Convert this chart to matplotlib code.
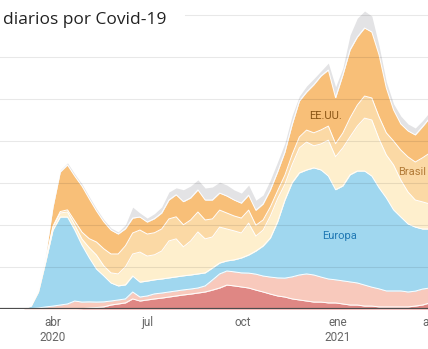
import matplotlib
matplotlib.use('Agg')
import matplotlib.pyplot as plt
import numpy as np
import pandas as pd

plt.rcParams['font.family'] = ['Roboto', 'DejaVu Sans']

# weekly 7-day averages of daily deaths
dates = pd.date_range('2020-03-04', periods=58, freq='7D')

india = [0, 0, 0, 0, 0, 0, 0, 0, 20, 50, 70, 100, 190, 240, 290, 480, 380, 430, 480, 520,
         570, 620, 670, 710, 760, 810, 900, 1000, 1140, 1100, 1050, 1000, 900, 810, 710, 620, 570, 480, 430, 380,
         330, 330, 290, 290, 240, 190, 190, 140, 140, 100, 100, 100, 100, 100, 140, 190, 290, 430]
resto = [20, 20, 50, 100, 140, 190, 240, 380, 310, 290, 260, 240, 190, 190, 190, 330, 190, 190, 240, 240,
         240, 240, 240, 240, 240, 290, 480, 670, 670, 670, 670, 710, 760, 760, 810, 860, 900, 1050, 1190, 1290,
         1290, 1190, 1140, 1100, 1100, 1100, 1050, 1000, 900, 860, 760, 760, 760, 710, 710, 760, 710, 670]
europa = [0, 120, 760, 2140, 3620, 4190, 4140, 3380, 2710, 2100, 1570, 1240, 860, 670, 670, 760, 710, 710, 670, 670,
          670, 670, 670, 670, 670, 620, 570, 520, 480, 570, 710, 860, 1100, 1430, 1860, 2670, 3710, 4480, 4860, 4950,
          5100, 5100, 4900, 4290, 4520, 5100, 5330, 5430, 5290, 4810, 4430, 3860, 3520, 3240, 3050, 2860, 2810, 2760]
latam = [0, 10, 50, 100, 140, 190, 240, 240, 290, 480, 670, 480, 480, 570, 860, 1050, 1430, 1190, 1190, 1330,
         1760, 1810, 1380, 1620, 2000, 1620, 1480, 1710, 1520, 1380, 1190, 1520, 710, 760, 1050, 1100, 760, 860, 1190, 1330,
         1050, 1240, 1710, 1570, 1810, 1810, 2140, 2520, 2670, 2330, 2050, 2140, 1760, 1520, 1290, 1290, 1190, 1140]
brasil = [0, 0, 10, 20, 50, 70, 100, 190, 330, 430, 620, 810, 900, 950, 1000, 1000, 1050, 1050, 1050, 1050,
          1050, 1050, 1050, 1000, 950, 900, 860, 810, 760, 710, 710, 620, 520, 480, 430, 380, 430, 480, 520, 570,
          620, 670, 670, 620, 710, 900, 1000, 1050, 1050, 1050, 1050, 1140, 1430, 1670, 1810, 2100, 2430, 2670]
eeuu = [0, 10, 90, 210, 900, 1880, 2140, 2140, 2190, 1900, 1480, 1290, 1140, 950, 810, 710, 620, 570, 670, 760,
        900, 1050, 1100, 1050, 1050, 950, 900, 810, 810, 760, 710, 710, 710, 760, 810, 900, 1100, 1430, 1710, 1810,
        2290, 2570, 2670, 2190, 2760, 3240, 3240, 3240, 3140, 2950, 2140, 1480, 1240, 1240, 1290, 1480, 1670, 1710]
otros = [10, 10, 50, 50, 100, 100, 100, 100, 100, 100, 100, 100, 100, 100, 190, 520, 190, 190, 240, 290,
         380, 330, 570, 570, 480, 570, 620, 520, 520, 480, 480, 480, 480, 430, 480, 480, 430, 430, 240, 290,
         290, 240, 330, 520, 330, 710, 900, 810, 760, 430, 290, 290, 380, 330, 330, 290, 290, 290]

layers = [india, resto, europa, latam, brasil, eeuu, otros]
colors = ['#df8784', '#f8c9bc', '#a0d7ef', '#feefcd', '#fbd9a5', '#f8bf78', '#e3e3e5']

W, H = 428, 349
fig = plt.figure(figsize=(W / 100, H / 100), dpi=100)
ax = fig.add_axes([0, 40 / H, 460 / W, 306.6 / H])

start = pd.Timestamp('2020-04-01')
ax.set_xlim(start - pd.Timedelta(days=51.2), start + pd.Timedelta(days=393.2))
ax.set_ylim(0, 14600)

lower = np.zeros(len(dates))
for vals, c in zip(layers, colors):
    upper = lower + np.array(vals)
    ax.fill_between(dates, lower, upper, color=c, lw=0, zorder=2)
    lower = upper
# white separators between layers
cum = np.cumsum(np.array(layers), axis=0)
for row in cum[:-1]:
    ax.plot(dates, row, color='white', lw=0.7, zorder=3)

for v in range(2000, 14001, 2000):
    xmin = 185 / 460 if v == 14000 else 0
    ax.axhline(v, xmin=xmin, color='black', alpha=0.09, lw=0.8, zorder=4)
ax.axhline(0, color='#4d4d4d', lw=1.6, zorder=5)

for s in ax.spines.values():
    s.set_visible(False)
ax.set_yticks([])
ticks = pd.to_datetime(['2020-04-01', '2020-07-01', '2020-10-01', '2021-01-01', '2021-04-01'])
ax.set_xticks(ticks)
ax.set_xticklabels(['abr\n2020', 'jul', 'oct', 'ene\n2021', 'abr'])
ax.tick_params(axis='x', length=0, pad=5, labelsize=8.5, labelcolor='#666666')

ax.text(pd.Timestamp('2020-12-20'), 9190, 'EE.UU.', ha='center', va='center',
        fontsize=8, color='#8a5515', zorder=6)
ax.text(pd.Timestamp('2021-03-14'), 6520, 'Brasil', ha='center', va='center',
        fontsize=8, color='#b27a36', zorder=6)
ax.text(pd.Timestamp('2021-01-03'), 3480, 'Europa', ha='center', va='center',
        fontsize=8, color='#1f78b4', zorder=6)

fig.text(3 / W, 1 - 24 / H, 'diarios por Covid-19', fontsize=12.5, family=['Open Sans', 'DejaVu Sans'],
         color='#222222', va='baseline', ha='left')

fig.savefig('out.png', dpi=100)
